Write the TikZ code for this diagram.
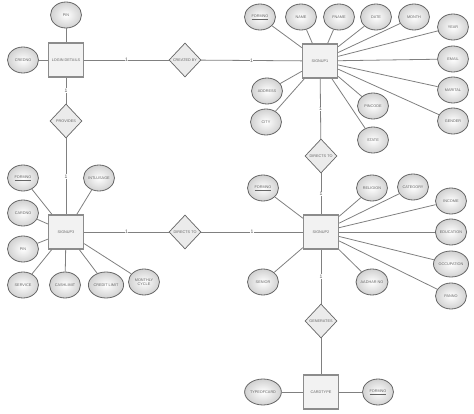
\documentclass[tikz,border=0pt]{standalone}
\usepackage{fontspec}
\setmainfont{Liberation Sans}
\usetikzlibrary{shapes.geometric,shadows}
\begin{document}
\begin{tikzpicture}[x=1pt,y=-1pt,
 lbl/.style={font=\fontsize{3.8}{4.3}\selectfont, text=black!60},
 attr/.style={ellipse, draw=black!60, line width=0.8pt, inner color=white, outer color=black!18,
   minimum width=31pt, minimum height=26pt, inner sep=0pt, align=center, lbl},
 ent/.style={rectangle, draw=black!45, line width=1.3pt, fill=black!5, minimum width=35pt, minimum height=34pt,
   inner sep=0pt, lbl, drop shadow={shadow xshift=0.7pt,shadow yshift=-0.7pt,opacity=0.35}},
 rel/.style={diamond, draw=black!60, line width=0.7pt, fill=black!8, minimum width=32pt, minimum height=34pt,
   inner sep=0pt, lbl},
 conn/.style={draw=black!50, line width=0.8pt},
 card/.style={fill=white, inner sep=0.5pt, font=\fontsize{5}{5.5}\selectfont, text=black!65}]
\useasboundingbox (0,0) rectangle (474,414);

% entities
\node[ent] (login) at (66,60) {LOGIN DETAILS};
\node[ent] (s1) at (320,61) {SIGNUP1};
\node[ent] (s3) at (66,232) {SIGNUP3};
\node[ent] (s2) at (321,232) {SIGNUP2};
\node[ent] (ct) at (321,392) {CARDTYPE};
% relationships
\node[rel] (created) at (185,60) {CREATED BY};
\node[rel] (provides) at (66,121) {PROVIDES};
\node[rel] (dir1) at (321,156) {DIRECTS TO};
\node[rel] (dir2) at (185,232) {DIRECTS TO};
\node[rel] (gen) at (321,321) {GENERATES};

% attributes of LOGIN DETAILS
\node[attr] (lpin) at (66,15) {PIN};
\node[attr] (lcred) at (23,60) {CREDNO};
% attributes of SIGNUP1
\node[attr] (a1) at (260,17) {\underline{FORMNO}};
\node[attr] (a2) at (301,17) {NAME};
\node[attr] (a3) at (339,17) {FNAME};
\node[attr] (a4) at (376,17) {DATE};
\node[attr] (a5) at (414,17) {MONTH};
\node[attr] (a6) at (453,27) {YEAR};
\node[attr] (a7) at (453,59) {EMAIL};
\node[attr] (a8) at (453,90) {MARITAL};
\node[attr] (a9) at (453,121) {GENDER};
\node[attr] (a10) at (267,91) {ADDRESS};
\node[attr] (a11) at (266,122) {CITY};
\node[attr] (a12) at (373,106) {PINCODE};
\node[attr] (a13) at (373,140) {STATE};
% attributes of SIGNUP3
\node[attr] (b1) at (23,178) {\underline{FORMNO}};
\node[attr] (b2) at (99,178) {INTLUSAGE};
\node[attr] (b3) at (23,213) {CARDNO};
\node[attr] (b4) at (23,249) {PIN};
\node[attr] (b5) at (23,285) {SERVICE};
\node[attr] (b6) at (65,285) {CASHLIMIT};
\node[attr] (b7) at (106,285) {CREDIT LIMIT};
\node[attr] (b8) at (144,282) {MONTHLY\\CYCLE};
% attributes of SIGNUP2
\node[attr] (c1) at (263,188) {\underline{FORMNO}};
\node[attr] (c2) at (372,188) {RELIGION};
\node[attr] (c3) at (413,187) {CATEGORY};
\node[attr] (c4) at (451,201) {INCOME};
\node[attr] (c5) at (451,232) {EDUCATION};
\node[attr] (c6) at (451,264) {OCCUPATION};
\node[attr] (c7) at (451,296) {PANNO};
\node[attr] (c8) at (263,282) {SENIOR};
\node[attr] (c9) at (372,282) {AADHAR NO};
% attributes of CARDTYPE
\node[attr] (d1) at (263,392) {TYPEOFCARD};
\node[attr] (d2) at (378,392) {\underline{FORMNO}};

% relationship connectors
\draw[conn] (login) -- node[card] {1} (created);
\draw[conn] (created) -- node[card] {1} (s1);
\draw[conn] (login) -- node[card] {1} (provides);
\draw[conn] (provides) -- node[card] {1} (s3);
\draw[conn] (s3) -- node[card] {1} (dir2);
\draw[conn] (dir2) -- node[card] {1} (s2);
\draw[conn] (s1) -- node[card] {1} (dir1);
\draw[conn] (dir1) -- node[card] {1} (s2);
\draw[conn] (s2) -- node[card] {1} (gen);
\draw[conn] (gen) -- (ct);

% attribute connectors
\foreach \a in {lpin,lcred} \draw[conn] (login) -- (\a);
\foreach \a in {a1,a2,a3,a4,a5,a6,a7,a8,a9,a10,a11,a12,a13} \draw[conn] (s1) -- (\a);
\foreach \a in {b1,b2,b3,b4,b5,b6,b7,b8} \draw[conn] (s3) -- (\a);
\foreach \a in {c1,c2,c3,c4,c5,c6,c7,c8,c9} \draw[conn] (s2) -- (\a);
\foreach \a in {d1,d2} \draw[conn] (ct) -- (\a);
\end{tikzpicture}
\end{document}
